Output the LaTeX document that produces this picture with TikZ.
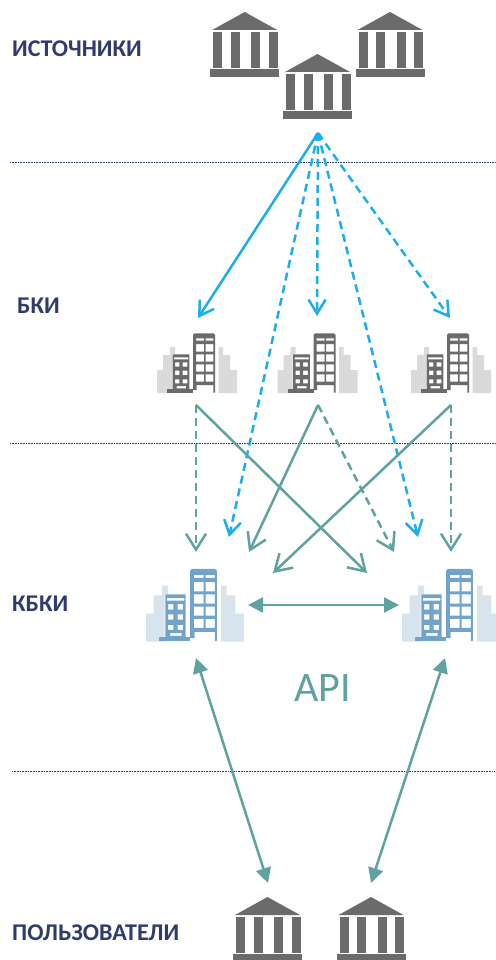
\documentclass[tikz,border=0pt]{standalone}
\usepackage{fontspec}
\setmainfont{Carlito}
\usetikzlibrary{arrows.meta}
\definecolor{navy}{HTML}{2F3B6B}
\definecolor{teal}{HTML}{5FA3A0}
\definecolor{sky}{HTML}{1CAEE8}
\definecolor{bankgrey}{HTML}{6B6B6B}
\definecolor{lightgrey}{HTML}{DADADA}
\definecolor{officeblue}{HTML}{72A3CB}
\definecolor{lightblue}{HTML}{D7E4EE}
\tikzset{
  x=1pt,y=-1pt,
  rowlabel/.style={font=\bfseries\fontsize{24}{28}\selectfont,text=navy,anchor=west,inner sep=0pt},
  divider/.style={draw=navy,line width=0.8pt,dash pattern=on 0.8pt off 0.8pt},
  pt/.style={inner sep=0pt,minimum size=0pt,outer sep=0pt},
  srcsolid/.style={draw=sky,line width=2.5pt,-{Straight Barb[length=14pt,width=17pt,line width=2.5pt]}},
  srcdash/.style={srcsolid,dash pattern=on 8pt off 5pt},
  linksolid/.style={draw=teal,line width=2.5pt,-{Straight Barb[length=16pt,width=20pt,line width=2.5pt]}},
  linkdash/.style={linksolid,dash pattern=on 8pt off 5pt},
  duplex/.style={draw=teal,line width=2.5pt,{Triangle[length=15pt,width=15pt]}-{Triangle[length=15pt,width=15pt]}},
  pics/bank/.style={code={
    \fill[bankgrey] (-32.5,18) -- (0,0) -- (32.5,18) -- cycle;
    \foreach \cx in {-31.5,-14,6.5,24}{\fill[bankgrey] (\cx,19.7) rectangle ++(9,36);}
    \fill[bankgrey] (-34.5,57.3) rectangle (34.5,64.7);
  }},
  pics/office/.style n args={2}{code={
    % light background silhouette
    \fill[#2] (-40,59) -- (-40,36) -- (-34,36) -- (-34,21) -- (-27,21) -- (-27,13) -- (-22,13) -- (-22,20) -- (-25,20) -- (-25,59) -- cycle;
    \fill[#2] (21.5,59) -- (21.5,13) -- (26,13) -- (26,21) -- (33,21) -- (33,36) -- (40,36) -- (40,59) -- cycle;
    % tower
    \fill[#1,even odd rule] (-4,56) -- (-4,1) -- (-2.5,-0.7) -- (16.5,-0.7) -- (18,1) -- (18,58.5) -- (16.3,58.5) -- (16.3,51) -- (-0.3,51) -- (-0.3,56) -- cycle
      (-1,4.3) rectangle (7,6.7) (8.7,4.3) rectangle (16.3,6.7)
      (-1,10) rectangle (7,17.7) (8.7,10) rectangle (16.3,17.7)
      (-1,20.3) rectangle (7,27.7) (8.7,20.3) rectangle (16.3,27.7)
      (-1,30.3) rectangle (7,37.7) (8.7,30.3) rectangle (16.3,37.7)
      (-1,40.3) rectangle (7,47.7) (8.7,40.3) rectangle (16.3,47.7);
    % small building
    \fill[#1,even odd rule] (-24.3,20.3) rectangle (-7.7,56)
      (-23,23.3) rectangle (-8.7,25.3)
      (-22,28.3) rectangle (-17.7,32.7) (-14.3,28.3) rectangle (-9.7,32.7)
      (-22,36.7) rectangle (-17.7,41) (-14.3,36.7) rectangle (-9.7,41)
      (-22,45.3) rectangle (-17.7,49.3) (-14.3,45.3) rectangle (-9.7,49.3)
      (-20.3,52) rectangle (-11,54.3);
    \fill[#1] (-29.7,55.3) rectangle (-3.7,58.7);
  }},
}
\begin{document}
\begin{tikzpicture}
\useasboundingbox (0,0) rectangle (495,960);
\fill[white] (0,0) rectangle (495,960);

% dividers
\coordinate (d1a) at (10,162); \coordinate (d1b) at (495,162);
\coordinate (d2a) at (10,443); \coordinate (d2b) at (495,443);
\coordinate (d3a) at (12,771); \coordinate (d3b) at (495,771);
\draw[divider] (d1a) -- (d1b);
\draw[divider] (d2a) -- (d2b);
\draw[divider] (d3a) -- (d3b);

% labels
\node[rowlabel] (lsrc) at (12,49) {ИСТОЧНИКИ};
\node[rowlabel] (lbki) at (17,306) {БКИ};
\node[rowlabel] (lkbki) at (12,604) {КБКИ};
\node[rowlabel] (lusr) at (12,933) {ПОЛЬЗОВАТЕЛИ};
\node[font=\fontsize{42}{50}\selectfont,text=teal,inner sep=0pt] (api) at (322.5,688) {API};

% sources
\pic at (244.7,12) {bank};
\pic at (390,12) {bank};
\pic at (317.5,54) {bank};

% BKI
\pic at (197,334) {office={bankgrey}{lightgrey}};
\pic at (317.5,334) {office={bankgrey}{lightgrey}};
\pic at (451,334) {office={bankgrey}{lightgrey}};

% KBKI
\pic[scale=1.22] at (195,569.7) {office={officeblue}{lightblue}};
\pic[scale=1.22] at (451,569.7) {office={officeblue}{lightblue}};

% users
\pic at (267.5,897) {bank};
\pic at (371,897) {bank};

% anchor points
\node[pt] (s) at (318,133) {};
\node[pt] (b1in) at (198,318) {};
\node[pt] (b2in) at (317,316) {};
\node[pt] (b3in) at (450,318) {};
\node[pt] (b1out) at (196,405) {};
\node[pt] (b2out) at (318,405) {};
\node[pt] (b3out) at (451,405) {};
\node[pt] (k1skyin) at (229,537) {};
\node[pt] (k2skyin) at (418,537) {};
\node[pt] (k1a) at (196,552) {};
\node[pt] (k1b) at (249,552) {};
\node[pt] (k1c) at (273,573) {};
\node[pt] (k2a) at (367,573) {};
\node[pt] (k2b) at (394,552) {};
\node[pt] (k2c) at (451,552) {};
\node[pt] (k1r) at (248,605) {};
\node[pt] (k2l) at (399,605) {};
\node[pt] (k1d) at (196,658) {};
\node[pt] (k2d) at (445,658) {};
\node[pt] (u1) at (268,883) {};
\node[pt] (u2) at (371,883) {};

% source arrows
\draw[srcsolid] (s) -- (b1in);
\draw[srcdash] (s) -- (k1skyin);
\draw[srcdash] (s) -- (b2in);
\draw[srcdash] (s) -- (k2skyin);
\draw[srcdash] (s) -- (b3in);
\fill[sky] (318,136.5) circle (3.6pt);

% BKI to KBKI
\draw[linkdash] (b1out) -- (k1a);
\draw[linksolid] (b1out) -- (k2a);
\draw[linksolid] (b2out) -- (k1b);
\draw[linkdash] (b2out) -- (k2b);
\draw[linksolid] (b3out) -- (k1c);
\draw[linkdash] (b3out) -- (k2c);

% duplex
\draw[duplex] (k1r) -- (k2l);
\draw[duplex] (k1d) -- (u1);
\draw[duplex] (k2d) -- (u2);
\end{tikzpicture}
\end{document}
